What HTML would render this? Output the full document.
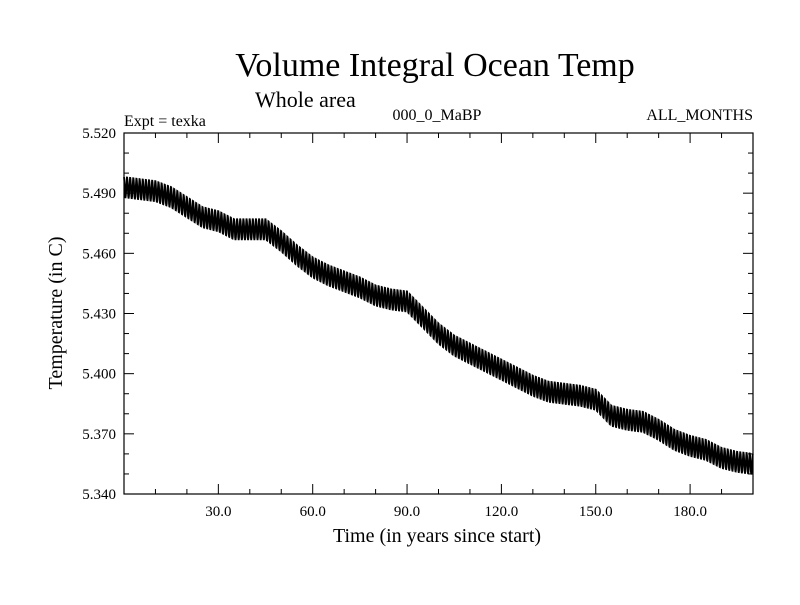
<!DOCTYPE html>
<html><head><meta charset="utf-8"><style>
body{margin:0;background:#fff}
svg text{font-family:"Liberation Serif",serif;fill:#000}
</style></head><body>
<svg id="c" width="800" height="600">
<text x="435" y="76" font-size="34" text-anchor="middle">Volume Integral Ocean Temp</text>
<text x="255" y="107" font-size="22">Whole area</text>
<text x="124" y="126" font-size="16">Expt = texka</text>
<text x="437" y="120" font-size="16" text-anchor="middle">000_0_MaBP</text>
<text x="753" y="120" font-size="16" text-anchor="end">ALL_MONTHS</text>
<text x="437" y="542" font-size="20" text-anchor="middle">Time (in years since start)</text>
<text transform="translate(62,313) rotate(-90)" font-size="20" text-anchor="middle">Temperature (in C)</text>
<g id="ax"></g>
<path id="ln" fill="none" stroke="#000" stroke-width="1.8"/>
<rect x="124" y="133" width="629" height="361" fill="none" stroke="#000" stroke-width="1.2"/>
</svg>
<script>
const years5=[0,5,10,15,20,25,30,35,40,45,50,55,60,65,70,75,80,85,90,95,100,105,110,115,120,125,130,135,140,145,150,155,160,165,170,175,180,185,190,195,200];
const meanTemp=[5.493,5.492,5.491,5.488,5.483,5.478,5.476,5.472,5.472,5.472,5.466,5.459,5.453,5.449,5.446,5.443,5.439,5.437,5.436,5.428,5.420,5.414,5.410,5.406,5.402,5.398,5.394,5.391,5.390,5.389,5.387,5.379,5.377,5.376,5.372,5.367,5.364,5.362,5.358,5.356,5.355];
const seasonal=[0.005,0.004,0.002,-0.001,-0.004,-0.005,-0.005,-0.004,-0.002,0.001,0.003,0.005];
const xTicks=[30,60,90,120,150,180];
const xTickLabels=["30.0","60.0","90.0","120.0","150.0","180.0"];
const yTicks=[5.34,5.37,5.40,5.43,5.46,5.49,5.52];
const yTickLabels=["5.340","5.370","5.400","5.430","5.460","5.490","5.520"];
const X0=124,X1=753,Y0=494,Y1=133,xmin=0,xmax=200,ymin=5.34,ymax=5.52;
const sx=v=>X0+(v-xmin)/(xmax-xmin)*(X1-X0);
const sy=v=>Y0-(v-ymin)/(ymax-ymin)*(Y0-Y1);
const ax=document.getElementById('ax');const NS="http://www.w3.org/2000/svg";
function L(x1,y1,x2,y2,n){const l=document.createElementNS(NS,'line');l.setAttribute('x1',x1);l.setAttribute('y1',y1);l.setAttribute('x2',x2);l.setAttribute('y2',y2);l.setAttribute('stroke','#000');


ax.appendChild(l);}
function T(x,y,s,a,n){const t=document.createElementNS(NS,'text');t.setAttribute('x',x);t.setAttribute('y',y);t.setAttribute('font-size','15');t.setAttribute('text-anchor',a);t.textContent=s;


ax.appendChild(t);}
for(let v=10;v<200;v+=10){const x=sx(v),big=v%30===0,h=big?10:5;L(x,Y0,x,Y0-h,'x-tick');L(x,Y1,x,Y1+h,'x-tick-top');}
xTicks.forEach((v,i)=>T(sx(v),516,xTickLabels[i],'middle','x-tick-label'));
for(let k=0;k<=18;k++){const v=ymin+k*0.01,y=sy(v),big=k%3===0,h=big?10:5;L(X0,y,X0+h,y,'y-tick');L(X1,y,X1-h,y,'y-tick-right');}
yTicks.forEach((v,i)=>T(116,sy(v)+5,yTickLabels[i],'end','y-tick-label'));
let d='';
for(let i=0;i<years5.length-1;i++){
 for(let m=0;m<60;m++){const f=m/60,yr=years5[i]+5*f,base=meanTemp[i]+(meanTemp[i+1]-meanTemp[i])*f;
  const v=base+seasonal[m%12];d+=(d?'L':'M')+sx(yr).toFixed(2)+','+sy(v).toFixed(2);}
}
document.getElementById('ln').setAttribute('d',d);
</script>
</body></html>
